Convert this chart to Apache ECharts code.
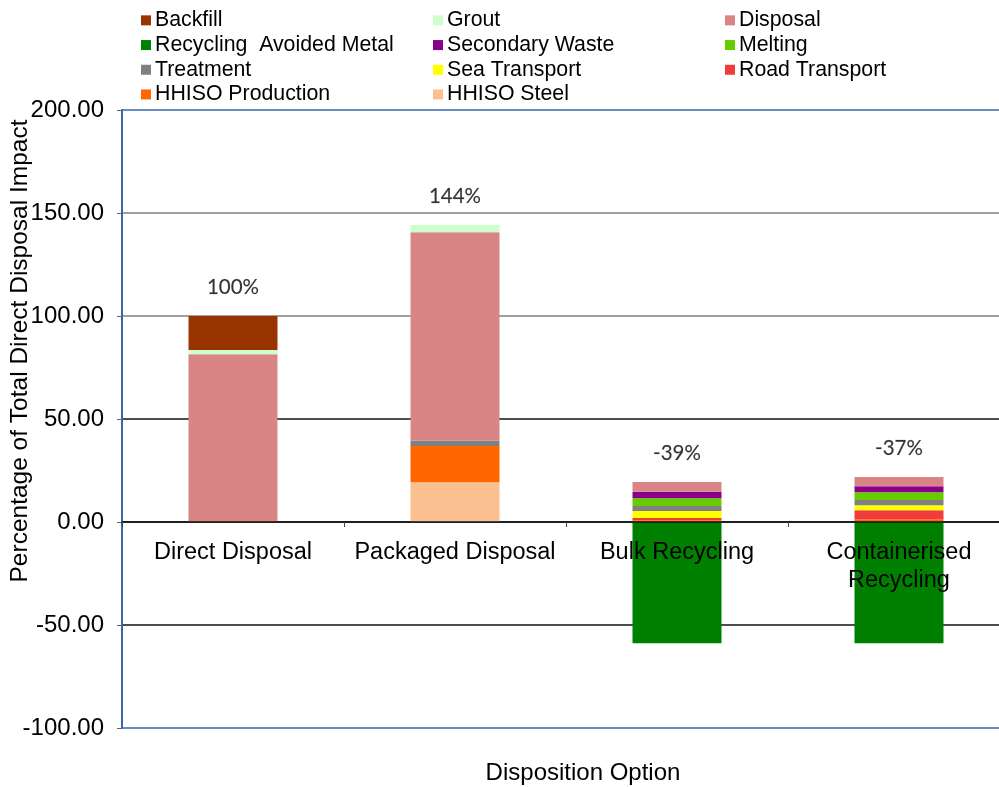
<!DOCTYPE html>
<html>
<head>
<meta charset="utf-8">
<title>Disposition Option Impacts</title>
<script src="https://cdn.jsdelivr.net/npm/echarts@6/dist/echarts.min.js"></script>
<style>
  html, body { margin: 0; padding: 0; background: #ffffff; overflow: hidden; }
  #chart { width: 1030px; height: 787px; }
</style>
</head>
<body>
<div id="chart"></div>
<script>
// Disposition options on the category axis
const categories = ['Direct Disposal', 'Packaged Disposal', 'Bulk Recycling', 'Containerised\nRecycling'];

// Impact contributions (% of total direct disposal impact), listed bottom-to-top of each stack
const hhisoSteel            = [0,    19.3, 0,    0];
const hhisoProduction       = [0,    17.6, 0.8,  1.3];
const roadTransport         = [0,    0,    1.2,  4.4];
const seaTransport          = [0,    0,    3.4,  2.4];
const treatment             = [0,    2.6,  2.4,  2.6];
const melting               = [0,    0,    3.7,  3.7];
const secondaryWaste        = [0,    0,    3.2,  2.9];
const disposal              = [81.4, 101.1, 4.7, 4.5];
const grout                 = [2.1,  3.6,  0,    0];
const backfill              = [16.5, 0,    0,    0];
const recyclingAvoidedMetal = [0,    0,   -58.8, -58.8];

// Value axis ticks
const yMin = -100, yMax = 200, yStep = 50;

const FONT = "'Liberation Sans', Arial, sans-serif";

const seriesDefs = [
  { name: 'HHISO Steel',             data: hhisoSteel,            color: '#FAC090' },
  { name: 'HHISO Production',        data: hhisoProduction,       color: '#FF6600' },
  { name: 'Road Transport',          data: roadTransport,         color: '#F03C3C' },
  { name: 'Sea Transport',           data: seaTransport,          color: '#FFFF00' },
  { name: 'Treatment',               data: treatment,             color: '#808080' },
  { name: 'Melting',                 data: melting,               color: '#66CC00' },
  { name: 'Secondary Waste',         data: secondaryWaste,        color: '#8B008B' },
  { name: 'Disposal',                data: disposal,              color: '#D98586' },
  { name: 'Grout',                   data: grout,                 color: '#CCFFCC' },
  { name: 'Backfill',                data: backfill,              color: '#993300' },
  { name: 'Recycling  Avoided Metal', data: recyclingAvoidedMetal, color: '#008000' }
];

// Positive stack height and net total per option, used for the percentage labels
const positiveTop = categories.map((_, i) =>
  seriesDefs.reduce((s, d) => s + Math.max(d.data[i], 0), 0));
const netTotal = categories.map((_, i) =>
  seriesDefs.reduce((s, d) => s + d.data[i], 0));

const barSeries = seriesDefs.map(d => ({
  name: d.name,
  type: 'bar',
  stack: 'impact',
  barWidth: 89,
  data: d.data,
  itemStyle: { color: d.color },
  emphasis: { disabled: true }
}));

const labelSeries = {
  name: 'net',
  type: 'scatter',
  symbolSize: 0,
  silent: true,
  data: positiveTop.map((v, i) => [i, v]),
  label: {
    show: true,
    position: 'top',
    distance: 18,
    fontFamily: "Lato, 'Open Sans', sans-serif",
    fontSize: 20.5,
    color: '#000',
    textBorderColor: 'rgba(0,0,0,0.35)',
    textBorderWidth: 0.4,
    formatter: p => Math.round(netTotal[p.dataIndex]) + '%'
  },
  z: 5
};

const legendCommon = {
  orient: 'vertical',
  top: 8,
  icon: 'rect',
  itemWidth: 10,
  itemHeight: 10,
  itemGap: 0,
  padding: 0,
  selectedMode: false,
  textStyle: { fontFamily: FONT, fontSize: 21.3, color: '#000', lineHeight: 24.7, padding: [0, 0, 0, -1] }
};

// Plot area geometry
const gridTop = 110, gridHeight = 618;
// Lift the category axis up to the zero line (labels follow it)
const zeroOffset = -gridHeight * (0 - yMin) / (yMax - yMin);

const option = {
  animation: false,
  backgroundColor: '#ffffff',
  grid: { left: 122, top: gridTop, width: 888, height: gridHeight },
  legend: [
    Object.assign({ left: 141, data: ['Backfill', 'Recycling  Avoided Metal', 'Treatment', 'HHISO Production'] }, legendCommon),
    Object.assign({ left: 433, data: ['Grout', 'Secondary Waste', 'Sea Transport', 'HHISO Steel'] }, legendCommon),
    Object.assign({ left: 725, data: ['Disposal', 'Melting', 'Road Transport'] }, legendCommon)
  ],
  xAxis: {
    type: 'category',
    data: categories,
    z: 10,
    offset: zeroOffset,
    axisLine: { onZero: false, lineStyle: { color: '#111', width: 1.5 } },
    axisTick: { show: true, length: 5, lineStyle: { color: '#444' } },
    axisLabel: { interval: 0, fontFamily: FONT, fontSize: 23.5, color: '#000', margin: 17, lineHeight: 28 },
    splitLine: { show: false }
  },
  yAxis: {
    type: 'value',
    min: yMin,
    max: yMax,
    interval: yStep,
    axisLine: { show: true, onZero: false, lineStyle: { color: '#3A66AC', width: 2 } },
    axisTick: { show: true, length: 5, lineStyle: { color: '#666' } },
    axisLabel: { fontFamily: FONT, fontSize: 24, color: '#000', margin: 18,
                 formatter: v => v.toFixed(2) },
    splitLine: {
      show: true,
      lineStyle: {
        color: ['#3A66AC', '#111', '#111', '#111', '#808080', '#808080', '#3A66AC'],
        width: 1.5
      }
    }
  },
  graphic: [
    {
      type: 'text',
      x: 20,
      y: 351,
      rotation: Math.PI / 2,
      style: {
        text: 'Percentage of Total Direct Disposal Impact',
        fontFamily: FONT,
        fontSize: 24.5,
        fill: '#000',
        align: 'center',
        verticalAlign: 'middle'
      }
    },
    {
      type: 'text',
      x: 583,
      y: 773,
      style: {
        text: 'Disposition Option',
        fontFamily: FONT,
        fontSize: 24,
        fill: '#000',
        align: 'center',
        verticalAlign: 'middle'
      }
    }
  ],
  series: barSeries.concat([labelSeries])
};

const chart = echarts.init(document.getElementById('chart'), null, { renderer: 'canvas' });
chart.setOption(option);
</script>
</body>
</html>
